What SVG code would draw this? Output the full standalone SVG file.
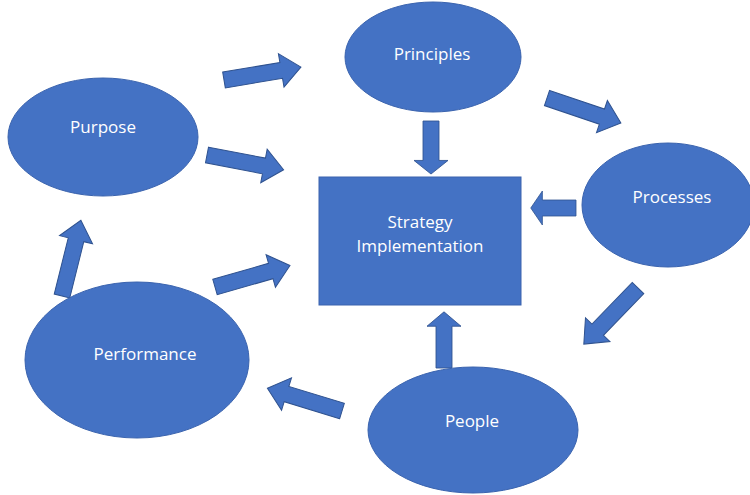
<svg xmlns="http://www.w3.org/2000/svg" width="750" height="495" viewBox="0 0 750 495">
  <style>
    .shape { fill: #4472C4; stroke: #3A63AE; stroke-width: 1; }
    .label { fill: #FFFFFF; font-family: "Open Sans", "Liberation Sans", sans-serif; font-size: 17px; text-anchor: middle; }
    .arrow { fill: #4472C4; stroke: #2F528F; stroke-width: 1; }
  </style>
  <defs>
    <!-- block arrow, 78 long, pointing along +x from the origin -->
    <polygon id="blk" points="0,-8 58,-8 58,-17 78,0 58,17 58,8 0,8"/>
  </defs>
  <rect width="750" height="495" fill="#FFFFFF"/>

  <g id="connectors">
    <use href="#blk" class="arrow" transform="translate(224,80) rotate(-9.5)"/>
    <use href="#blk" class="arrow" transform="translate(547,98) rotate(18.7)"/>
    <use href="#blk" class="arrow" transform="translate(431,121) rotate(90) scale(0.68,1)"/>
    <use href="#blk" class="arrow" transform="translate(207,155) rotate(10.9)"/>
    <use href="#blk" class="arrow" transform="translate(576,208) rotate(180) scale(0.58,1)"/>
    <use href="#blk" class="arrow" transform="translate(215,287) rotate(-16)"/>
    <use href="#blk" class="arrow" transform="translate(444,368) rotate(-90) scale(0.72,1)"/>
    <use href="#blk" class="arrow" transform="translate(638,288) rotate(134)"/>
    <use href="#blk" class="arrow" transform="translate(342,411) rotate(197)"/>
    <use href="#blk" class="arrow" transform="translate(62,296) rotate(-76)"/>
  </g>

  <g id="strategy">
    <rect class="shape" x="319" y="177" width="202" height="128"/>
    <text class="label" x="420" y="228">Strategy</text>
    <text class="label" x="420" y="252">Implementation</text>
  </g>
  <g id="principles">
    <ellipse class="shape" cx="433" cy="57" rx="88" ry="55"/>
    <text class="label" x="432" y="60">Principles</text>
  </g>
  <g id="purpose">
    <ellipse class="shape" cx="103" cy="137" rx="95" ry="59"/>
    <text class="label" x="103" y="133">Purpose</text>
  </g>
  <g id="processes">
    <ellipse class="shape" cx="668" cy="205" rx="86" ry="62"/>
    <text class="label" x="672" y="203">Processes</text>
  </g>
  <g id="performance">
    <ellipse class="shape" cx="137" cy="360" rx="112" ry="78"/>
    <text class="label" x="145" y="360">Performance</text>
  </g>
  <g id="people">
    <ellipse class="shape" cx="473" cy="430" rx="105" ry="63"/>
    <text class="label" x="472" y="427">People</text>
  </g>
</svg>
